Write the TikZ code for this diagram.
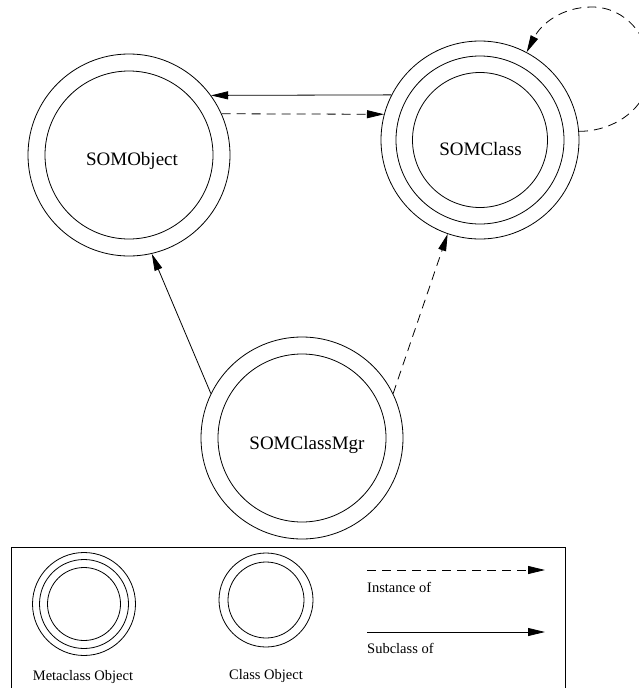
\documentclass[tikz,border=0pt]{standalone}
\usepackage{fontspec}
\setmainfont{Liberation Serif}
\usetikzlibrary{arrows.meta}
\begin{document}
\begin{tikzpicture}[x=1pt,y=-1pt,
  ring/.style={circle,draw,line width=0.8pt,inner sep=0pt,minimum size=#1},
  lbl/.style={font=\fontsize{19}{22}\selectfont,anchor=base,inner sep=0pt},
  leg/.style={font=\fontsize{14.5}{17}\selectfont,anchor=base,inner sep=0pt},
  conn/.style={line width=0.8pt,-{Triangle[length=17pt,width=8pt]}},
  inst/.style={conn,dash pattern=on 9pt off 6pt},
  sub/.style={conn}]
\useasboundingbox (0,0) rectangle (639,688);
\clip (0,0) rectangle (639,688);

% SOMObject: class object (two rings)
\node[ring=202pt] (obj) at (129,155) {};
\node[ring=168pt] (objIn) at (129,155) {};
\node[lbl] (objText) at (132,165) {SOMObject};

% SOMClass: metaclass object (three rings)
\node[ring=198pt] (cls) at (480,140) {};
\node[ring=168pt] (clsMid) at (480,140) {};
\node[ring=135pt] (clsIn) at (480,140) {};
\node[lbl] (clsText) at (480.5,155) {SOMClass};

% SOMClassMgr: class object (two rings)
\node[ring=202pt] (mgr) at (302,438) {};
\node[ring=168pt] (mgrIn) at (302,438) {};
\node[lbl] (mgrText) at (307,449) {SOMClassMgr};

% relations
\draw[sub] (cls.153) -- (obj.36);
\draw[inst] (obj.24) -- (cls.165);
\draw[sub] (mgr.154) -- (obj.-77);
\draw[inst] (mgr.26) -- (cls.-109);
\coordinate (loopR) at (650,70);
\coordinate (loopT) at (592,7);
\draw[inst] (cls.5) to[out=0,in=-90] (loopR) to[out=90,in=0] (loopT)
  to[out=180,in=63] (cls.62);

% legend
\draw[line width=0.8pt] (11,547) rectangle (565,700);
\node[ring=103pt] (legMeta) at (84,604) {};
\node[ring=89pt] (legMetaMid) at (84,604) {};
\node[ring=73pt] (legMetaIn) at (84,604) {};
\node[leg] (metaText) at (83,680) {Metaclass Object};
\node[ring=94pt] (legClass) at (266,600) {};
\node[ring=76pt] (legClassIn) at (266,600) {};
\node[leg] (classText) at (266,679) {Class Object};
\coordinate (instA) at (367,570);
\coordinate (instB) at (545,570);
\draw[inst] (instA) -- (instB);
\node[leg,anchor=base west] (instText) at (367,592) {Instance of};
\coordinate (subA) at (367,632);
\coordinate (subB) at (545,632);
\draw[sub] (subA) -- (subB);
\node[leg,anchor=base west] (subText) at (367,653) {Subclass of};
\end{tikzpicture}
\end{document}
